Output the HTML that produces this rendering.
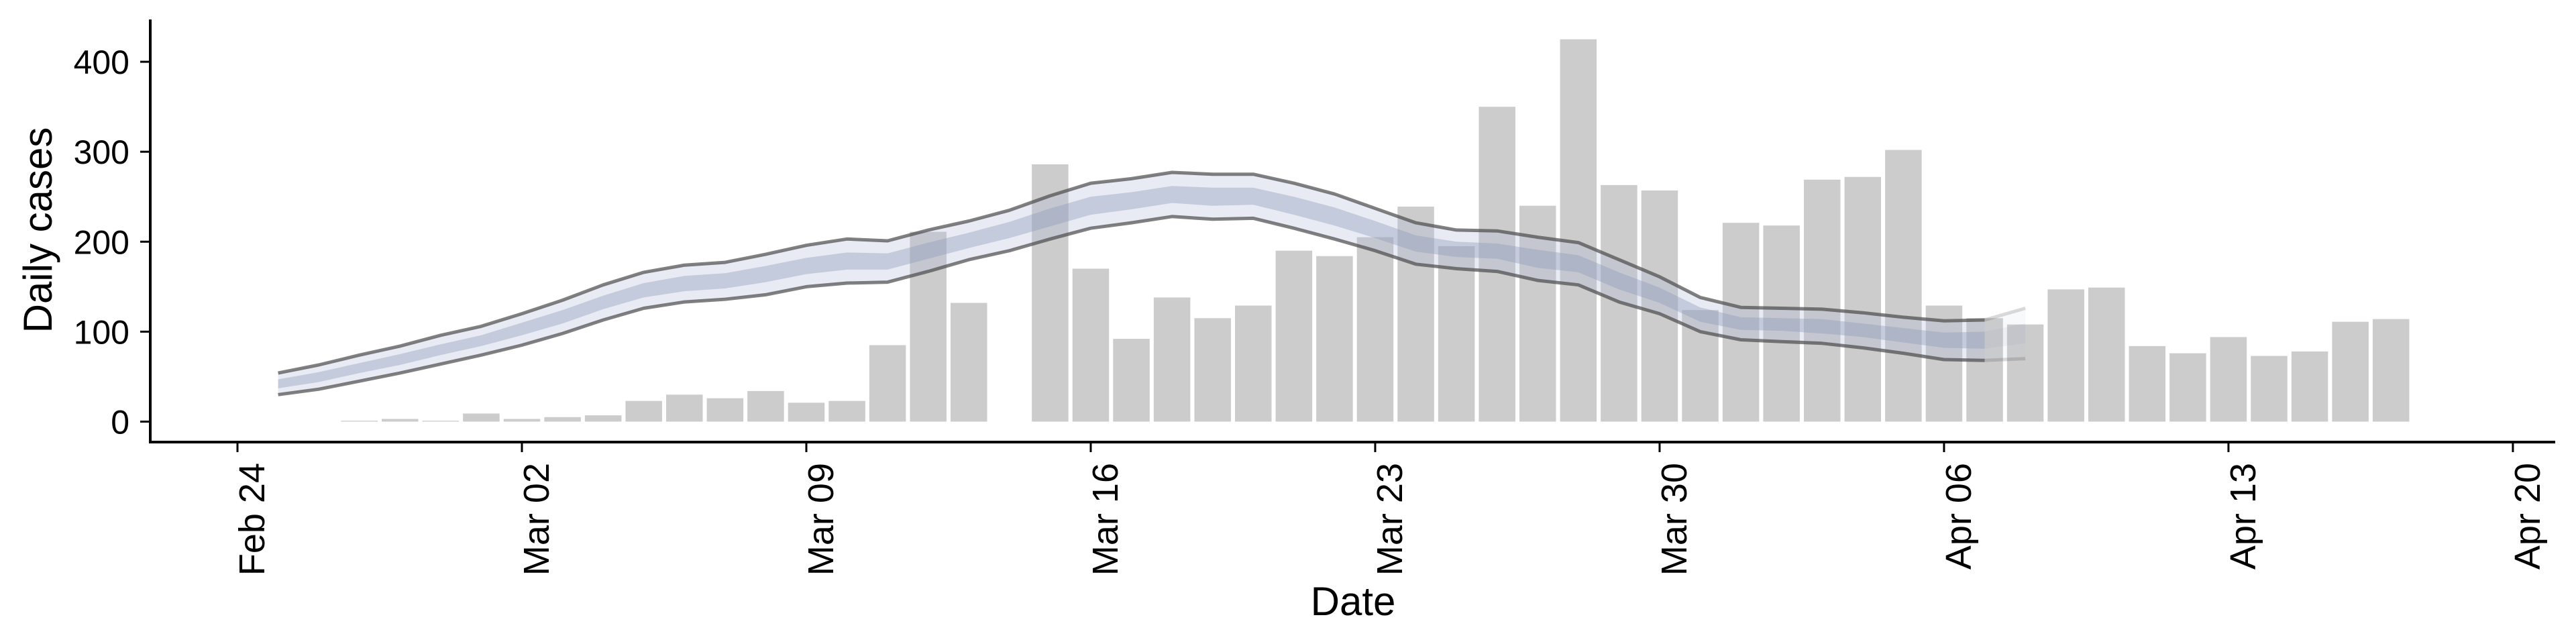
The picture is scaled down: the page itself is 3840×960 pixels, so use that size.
<!DOCTYPE html>
<html><head><meta charset="utf-8"><style>
html,body{margin:0;padding:0;background:#fff;}
svg{display:block;font-family:"Liberation Sans",Arial,sans-serif;}
</style></head><body>
<svg id="chart" width="3840" height="960" viewBox="0 0 3840 960" xmlns="http://www.w3.org/2000/svg">
<g id="bars"></g>
<g id="bands"></g>
<g id="axes"></g>
</svg>
<script>
// Bars: day offset from Feb 24 and daily case counts (no bar on Mar 14)
const barDays = [3,4,5,6,7,8,9,10,11,12,13,14,15,16,17,18,20,21,22,23,24,25,26,27,28,29,30,31,32,33,34,35,36,37,38,39,40,41,42,43,44,45,46,47,48,49,50,51,52,53];
const barValues = [1,3,1,9,3,5,7,23,30,26,34,21,23,85,211,132,286,170,92,138,115,129,190,184,205,239,195,350,240,425,263,257,124,221,218,269,272,302,129,115,108,147,149,84,76,94,73,78,111,114];
// Band series: day offsets 1..44 (Feb 25 .. Apr 08)
const bandDays = [1,2,3,4,5,6,7,8,9,10,11,12,13,14,15,16,17,18,19,20,21,22,23,24,25,26,27,28,29,30,31,32,33,34,35,36,37,38,39,40,41,42,43,44];
const upperValues = [54,63,74,84,96,106,120,135,152,166,174,177,186,196,203,201,213,223,235,251,265,270,277,275,275,265,253,237,221,213,212,205,199,180,161,138,127,126,125,121,116,112,113,126];
const lowerValues = [30,36,45,54,64,74,85,98,113,126,133,136,141,150,154,155,167,180,190,203,215,221,228,225,226,215,203,190,175,170,167,157,152,133,120,100,91,89,87,82,76,69,68,70];
const innerUpperValues = [47,55,65,75,86,96,110,124,140,154,162,165,173,182,188,187,199,210,222,237,250,255,262,260,260,250,238,223,207,200,198,191,185,166,149,127,116,115,114,109,104,99,100,109];
const innerLowerValues = [37,44,54,63,74,84,96,109,125,138,145,148,155,164,169,169,181,193,204,217,230,236,243,240,241,230,218,204,189,183,181,171,166,147,132,111,102,101,98,94,88,82,81,87];
const xTickDays = [0,7,14,21,28,35,42,49,56];
const xTickLabels = ["Feb 24","Mar 02","Mar 09","Mar 16","Mar 23","Mar 30","Apr 06","Apr 13","Apr 20"];
const yTicks = [0,100,200,300,400];

const NS = "http://www.w3.org/2000/svg";
const X0 = 354, DAY = 60.57;
const Y0 = 628.5, YS = 1.341;
function xs(d){ return X0 + d*DAY; }
function ys(v){ return Y0 - v*YS; }
function mk(tag, attrs, parent){
  const e = document.createElementNS(NS, tag);
  for (const k in attrs) e.setAttribute(k, attrs[k]);
  parent.appendChild(e);
  return e;
}
const barsG = document.getElementById('bars');
const bandsG = document.getElementById('bands');
const axesG = document.getElementById('axes');

const bw = DAY*0.9;
for (let i=0;i<barDays.length;i++){
  const r = mk('rect', {x: xs(barDays[i]) - bw/2, y: ys(barValues[i]), width: bw, height: barValues[i]*YS, fill: '#cccccc'}, barsG);
  
  
}

function areaPath(up, lo, from, to){
  let d = '';
  for (let i=from;i<=to;i++) d += (i===from?'M':'L') + xs(bandDays[i]).toFixed(1) + ',' + ys(up[i]).toFixed(1);
  for (let i=to;i>=from;i--) d += 'L' + xs(bandDays[i]).toFixed(1) + ',' + ys(lo[i]).toFixed(1);
  return d + 'Z';
}
function linePath(arr, from, to){
  let d = '';
  for (let i=from;i<=to;i++) d += (i===from?'M':'L') + xs(bandDays[i]).toFixed(1) + ',' + ys(arr[i]).toFixed(1);
  return d;
}
function drawBands(from, to, op, suffix){
  const g = mk('g', {opacity: op}, bandsG);
  
  
  const o = mk('path', {d: areaPath(upperValues, lowerValues, from, to), fill: 'rgb(180,190,215)', 'fill-opacity': 0.3}, g);
  
  
  const n = mk('path', {d: areaPath(innerUpperValues, innerLowerValues, from, to), fill: 'rgb(143,156,185)', 'fill-opacity': 0.4}, g);
  
  
  const u = mk('path', {d: linePath(upperValues, from, to), fill: 'none', stroke: '#4a4a4a', 'stroke-opacity': 0.7, 'stroke-width': 5, 'stroke-linejoin': 'round'}, g);
  
  
  const l = mk('path', {d: linePath(lowerValues, from, to), fill: 'none', stroke: '#4a4a4a', 'stroke-opacity': 0.7, 'stroke-width': 5, 'stroke-linejoin': 'round'}, g);
  
  
}
const n = bandDays.length;
drawBands(0, n-2, 1, '');
drawBands(n-2, n-1, 0.3, '-recent');

const yax = mk('line', {x1: 224, y1: 29, x2: 224, y2: 661, stroke: '#000', 'stroke-width': 4}, axesG);


const xax = mk('line', {x1: 222, y1: 659, x2: 3809, y2: 659, stroke: '#000', 'stroke-width': 4}, axesG);



for (let i=0;i<yTicks.length;i++){
  const y = ys(yTicks[i]);
  const t = mk('line', {x1: 209, y1: y, x2: 224, y2: y, stroke: '#000', 'stroke-width': 3}, axesG);
  
  
  const tx = mk('text', {x: 193, y: y + 18, 'text-anchor': 'end', 'font-size': 50, fill: '#000'}, axesG);
  tx.textContent = String(yTicks[i]);
  
  
}
for (let i=0;i<xTickDays.length;i++){
  const x = xs(xTickDays[i]);
  const t = mk('line', {x1: x, y1: 659, x2: x, y2: 674, stroke: '#000', 'stroke-width': 3}, axesG);
  
  
  const bx = x + 40, by = 690;
  const tx = mk('text', {x: bx, y: by, 'text-anchor': 'end', 'font-size': 54, fill: '#000', transform: 'rotate(-90 ' + bx + ' ' + by + ')'}, axesG);
  tx.textContent = xTickLabels[i];
  
  
}
const yt = mk('text', {x: 77, y: 343, 'text-anchor': 'middle', 'font-size': 60, fill: '#000', transform: 'rotate(-90 77 343)'}, axesG);
yt.textContent = 'Daily cases';


const xt = mk('text', {x: 2017, y: 917, 'text-anchor': 'middle', 'font-size': 60, fill: '#000'}, axesG);
xt.textContent = 'Date';


</script>
</body></html>
